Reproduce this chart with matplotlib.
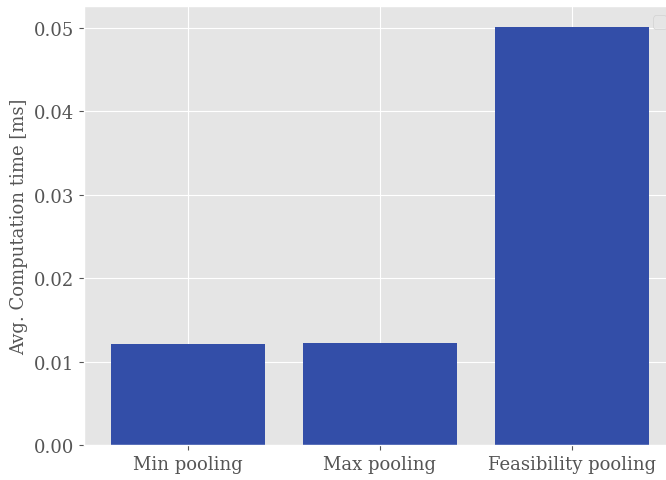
import matplotlib
matplotlib.use("Agg")
import matplotlib.pyplot as plt

plt.style.use("ggplot")
plt.rcParams["font.family"] = "DejaVu Serif"

methods = ["Min pooling", "Max pooling", "Feasibility pooling"]
times = [0.01208, 0.0122, 0.0501]

fig = plt.figure(figsize=(6.66, 4.81), dpi=100)
ax = fig.add_axes([84 / 666, 35 / 481, 592 / 666, 439 / 481])
ax.bar(methods, times, color="#334ea8")
ax.set_ylabel("Avg. Computation time [ms]", fontsize=13)
ax.tick_params(axis="both", labelsize=13)
ax.legend(loc="upper right", fontsize=13)
fig.savefig("out.png", dpi=100)
